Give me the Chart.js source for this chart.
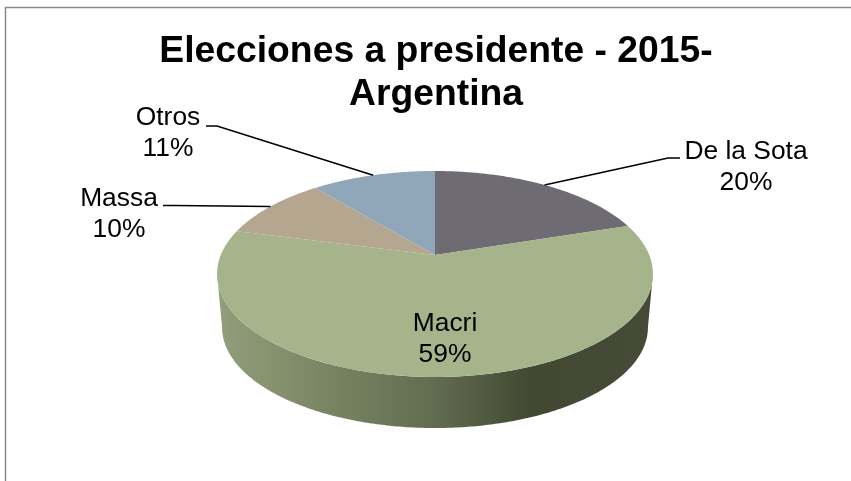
<!DOCTYPE html>
<html>
<head>
<meta charset="utf-8">
<title>Elecciones a presidente</title>
<script src="https://cdn.jsdelivr.net/npm/chart.js@4/dist/chart.umd.js"></script>
<style>
  html, body { margin: 0; padding: 0; background: #fff; }
  canvas { display: block; }
</style>
</head>
<body>
<canvas id="graficoVotos" width="851" height="481"></canvas>
<script>
var candidatos = ['De la Sota', 'Macri', 'Massa', 'Otros'];
var votos = [20, 59, 10, 11];
var colores = ['#6E6C72', '#A5B48A', '#B5A78F', '#8FA7B8'];
var titulo = ['Elecciones a presidente - 2015-', 'Argentina'];

// colores del lateral del disco, de izquierda a derecha
var paradasLateral = [[0, '#929E7C'], [0.12, '#87926F'], [0.5, '#626C50'], [0.72, '#424832'], [1, '#454B36']];

// donde va cada rotulo: centro del texto y codo de la linea guia (null = sin linea)
var rotulos = [
    { x: 746, y: 151.5, codo: [668, 158], fin: [680, 158] },
    { x: 445, y: 323.5, codo: null },
    { x: 119, y: 198.5, codo: [175, 205.5], fin: [163, 205.5] },
    { x: 168, y: 118, codo: [217, 126], fin: [206, 126] }
];

// proyeccion del disco con perspectiva
var persp = { cx: 435, cy: 255, a: 214.2, b: 99.5, k: -0.1845, alto: 53.8, escalaBase: 0.977 };

function proyectar(ang, base) {
    var u = Math.cos(ang), v = Math.sin(ang);
    var d = 1 + persp.k * v;
    var s = base ? persp.escalaBase : 1;
    return {
        x: persp.cx + s * persp.a * u / d,
        y: persp.cy + (base ? persp.alto : 0) + s * persp.b * v / d
    };
}

function trazarBorde(ctx, desde, hasta, base) {
    var pasos = Math.ceil(Math.abs(hasta - desde) / 0.01);
    for (var i = 0; i <= pasos; i++) {
        var p = proyectar(desde + (hasta - desde) * i / pasos, base);
        ctx.lineTo(p.x, p.y);
    }
}

var pie3d = {
    id: 'pie3d',
    beforeDraw: function (chart) {
        var ctx = chart.ctx;
        ctx.save();
        ctx.fillStyle = '#fff';
        ctx.fillRect(0, 0, chart.width, chart.height);
        // marco: solo arriba y a la izquierda
        ctx.strokeStyle = '#8A8A8A';
        ctx.lineWidth = 1.5;
        ctx.beginPath();
        ctx.moveTo(5.5, chart.height);
        ctx.lineTo(5.5, 7.5);
        ctx.lineTo(chart.width, 7.5);
        ctx.stroke();
        ctx.restore();
    },
    beforeDatasetsDraw: function (chart) {
        var ctx = chart.ctx;
        var arcos = chart.getDatasetMeta(0).data;
        // angulo donde el disco es mas ancho: de ahi baja la silueta del lateral
        var ancho = Math.asin(-persp.k);
        ctx.save();

        // lateral: solo la porcion que pasa por el frente
        arcos.forEach(function (arco) {
            if (arco.startAngle < Math.PI / 2 && arco.endAngle > Math.PI / 2) {
                var ini = Math.max(arco.startAngle, ancho);
                var fin = Math.min(arco.endAngle, Math.PI - ancho);
                var grad = ctx.createLinearGradient(217, 0, 653, 0);
                paradasLateral.forEach(function (p) { grad.addColorStop(p[0], p[1]); });
                ctx.fillStyle = grad;
                ctx.beginPath();
                trazarBorde(ctx, ini, fin, false);
                trazarBorde(ctx, fin, ini, true);
                ctx.closePath();
                ctx.fill();
            }
        });

        // cara superior
        arcos.forEach(function (arco, i) {
            ctx.fillStyle = colores[i];
            ctx.beginPath();
            ctx.moveTo(persp.cx, persp.cy);
            trazarBorde(ctx, arco.startAngle, arco.endAngle, false);
            ctx.closePath();
            ctx.fill();
        });
        ctx.restore();
        return false;
    },
    afterDraw: function (chart) {
        var ctx = chart.ctx;
        var arcos = chart.getDatasetMeta(0).data;
        ctx.save();
        ctx.fillStyle = '#000';
        ctx.strokeStyle = '#000';
        ctx.lineWidth = 1.7;
        ctx.font = '26.4px "Liberation Sans", Arial, sans-serif';
        ctx.textAlign = 'center';
        ctx.textBaseline = 'middle';
        arcos.forEach(function (arco, i) {
            var r = rotulos[i];
            if (r.codo) {
                var p = proyectar((arco.startAngle + arco.endAngle) / 2, false);
                ctx.beginPath();
                ctx.moveTo(p.x, p.y);
                ctx.lineTo(r.codo[0], r.codo[1]);
                ctx.lineTo(r.fin[0], r.fin[1]);
                ctx.stroke();
            }
            ctx.fillText(candidatos[i], r.x, r.y);
            ctx.fillText(votos[i] + '%', r.x, r.y + 31);
        });
        ctx.restore();
    }
};

var graficoVotos = new Chart(document.getElementById('graficoVotos'), {
    type: 'pie',
    data: {
        labels: candidatos,
        datasets: [{ data: votos, backgroundColor: colores, borderWidth: 0 }]
    },
    options: {
        responsive: false,
        animation: false,
        events: [],
        layout: { padding: { left: 21 } },
        plugins: {
            legend: { display: false },
            tooltip: { enabled: false },
            title: {
                display: true,
                text: titulo,
                color: '#000',
                padding: { top: 30, bottom: 0 },
                font: { family: '"Liberation Sans", Arial, sans-serif', size: 37.3, weight: 'bold', lineHeight: 1.155 }
            }
        }
    },
    plugins: [pie3d]
});
</script>
</body>
</html>
